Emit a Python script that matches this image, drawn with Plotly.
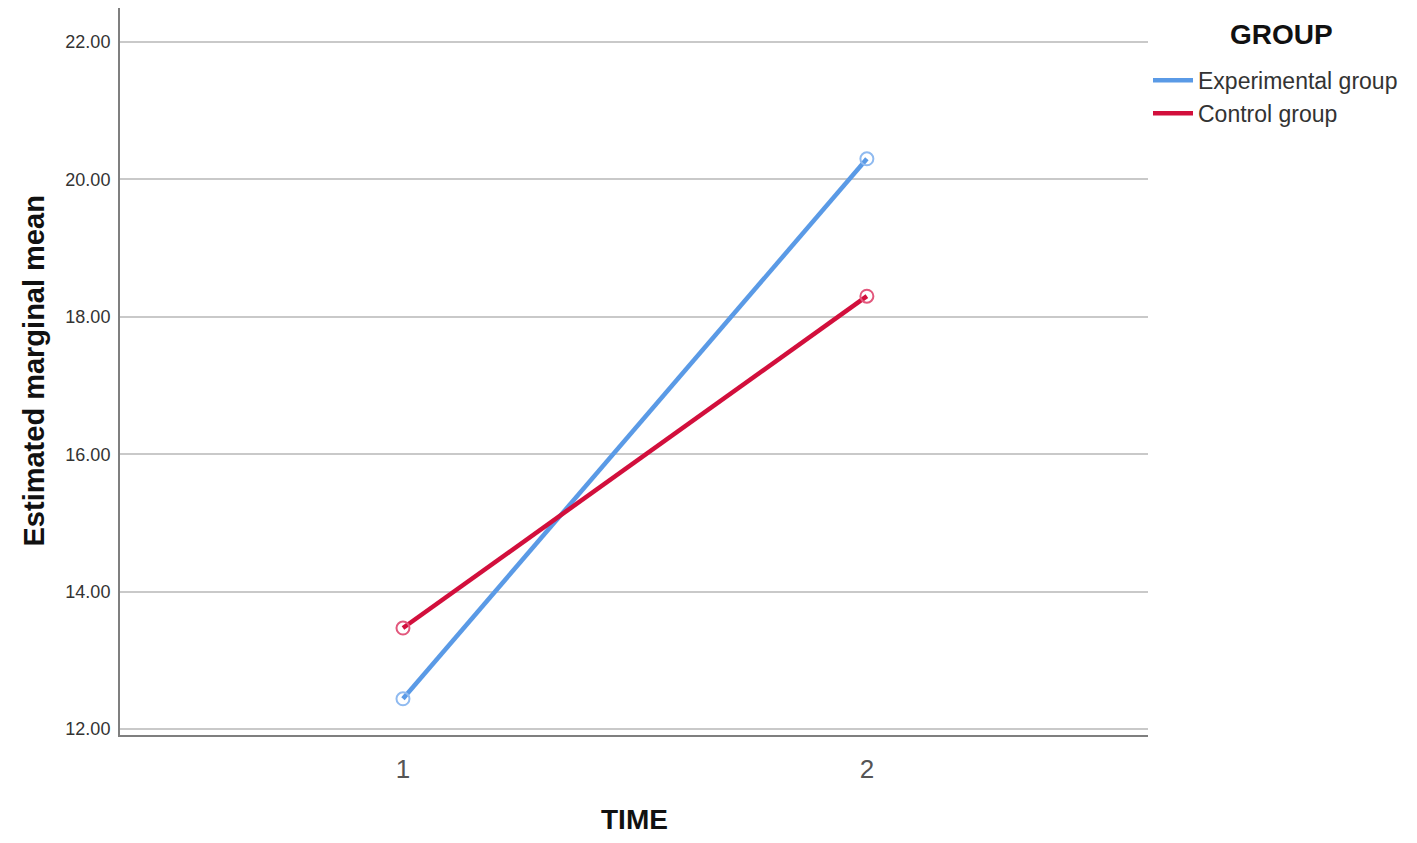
import plotly.graph_objects as go

time_labels = [1, 2]
groups = ["Experimental group", "Control group"]
experimental = [12.44, 20.30]
control = [13.47, 18.30]
y_ticks = [12, 14, 16, 18, 20, 22]

line_colors = ["#5A9AE6", "#D20F3C"]
marker_colors = ["#8FBAF0", "#E2577C"]
series = [experimental, control]

fig = go.Figure()
for name, vals, lc, mc in zip(groups, series, line_colors, marker_colors):
    fig.add_trace(go.Scatter(x=time_labels, y=vals, mode="lines", name=name,
                             line=dict(color=lc, width=4.5), hoverinfo="skip"))
for name, vals, lc, mc in zip(groups, series, line_colors, marker_colors):
    fig.add_trace(go.Scatter(x=time_labels, y=vals, mode="markers", name=name,
                             showlegend=False,
                             marker=dict(symbol="circle-open", size=13, color=mc,
                                         line=dict(width=2, color=mc))))

font_main = "Liberation Sans, Arial, sans-serif"

fig.update_layout(
    width=1401, height=827,
    margin=dict(l=112, r=261, t=0, b=100),
    paper_bgcolor="white", plot_bgcolor="white",
    font=dict(family=font_main, color="#222222"),
    showlegend=True,
    legend=dict(x=1.0, y=0.93, xanchor="left", yanchor="top",
                font=dict(size=23, color="#333333"), tracegroupgap=0,
                itemwidth=40, bgcolor="rgba(0,0,0,0)"),
    xaxis=dict(range=[0.39, 2.606], tickvals=time_labels, ticktext=[str(t) for t in time_labels],
               showgrid=False, zeroline=False, showline=True, linecolor="#7F7F7F", linewidth=2,
               ticks="", tickfont=dict(size=26, color="#555555"), ticklabelstandoff=10),
    yaxis=dict(range=[11.913, 22.495], tickvals=y_ticks, tickformat=".2f",
               showgrid=True, gridcolor="#C9C9C9", gridwidth=1.5, zeroline=False,
               showline=True, linecolor="#7F7F7F", linewidth=2,
               ticks="", tickfont=dict(size=18, color="#333333"), ticklabelstandoff=4),
    annotations=[
        dict(text="<b>Estimated marginal mean</b>", textangle=-90, xref="paper", yref="paper",
             x=0, y=0.5, xshift=-87, showarrow=False, font=dict(size=29, color="#111111"),
             xanchor="center", yanchor="middle"),
        dict(text="<b>TIME</b>", xref="paper", yref="paper", x=0.5, y=0, yshift=-84,
             showarrow=False, font=dict(size=28, color="#111111"),
             xanchor="center", yanchor="middle"),
        dict(text="<b>GROUP</b>", xref="paper", yref="paper", x=1, y=1, xshift=133, yshift=-26,
             showarrow=False, font=dict(size=28, color="#111111"),
             xanchor="center", yanchor="middle"),
    ],
)

fig.write_html("out.html")
